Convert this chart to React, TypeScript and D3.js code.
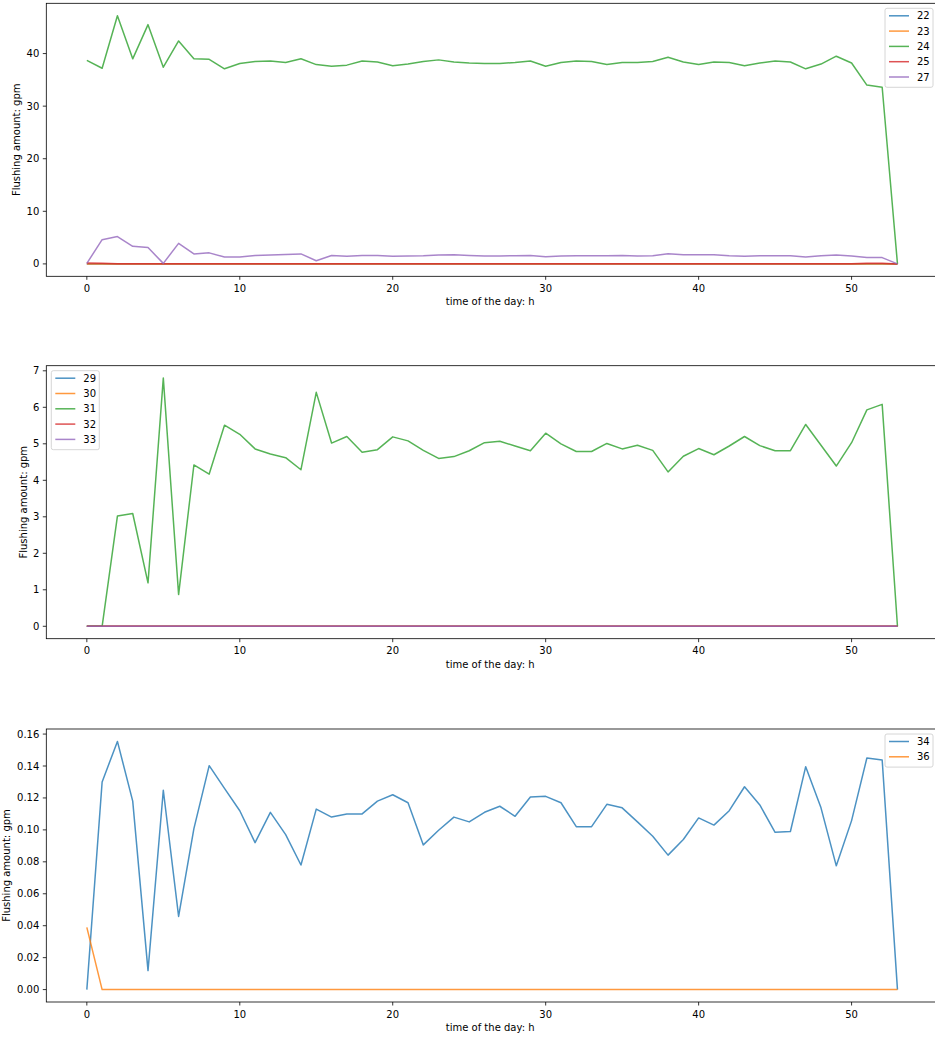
import React from 'react';
import * as d3 from 'd3';

// x axis: time index 0..53
const hours = d3.range(0, 54);

// panel 1 series
const s22 = hours.map(() => 0);
const s23 = hours.map(() => 0);
const s24 = [
  38.7, 37.2, 47.2, 39.0, 45.5, 37.4, 42.4, 39.0, 38.9, 37.1,
  38.1, 38.5, 38.6, 38.3, 39.0, 37.9, 37.6, 37.8, 38.6, 38.4,
  37.7, 38.0, 38.5, 38.8, 38.4, 38.2, 38.1, 38.1, 38.3, 38.6,
  37.6, 38.3, 38.6, 38.5, 37.9, 38.3, 38.3, 38.5, 39.3, 38.4,
  37.9, 38.4, 38.3, 37.7, 38.2, 38.6, 38.4, 37.1, 38.0, 39.5,
  38.2, 34.0, 33.6, 0,
];
const s25 = [
  0.15, 0.1, 0.05, 0.05, 0.05, 0.05, 0.05, 0.05, 0.05, 0.05,
  0.05, 0.05, 0.05, 0.05, 0.05, 0.05, 0.05, 0.05, 0.05, 0.05,
  0.05, 0.05, 0.05, 0.05, 0.05, 0.05, 0.05, 0.05, 0.05, 0.05,
  0.05, 0.05, 0.05, 0.05, 0.05, 0.05, 0.05, 0.05, 0.05, 0.05,
  0.05, 0.05, 0.05, 0.05, 0.05, 0.05, 0.05, 0.05, 0.05, 0.05,
  0.05, 0.1, 0.1, 0,
];
const s27 = [
  0.1, 4.6, 5.2, 3.35, 3.1, 0.1, 3.9, 1.9, 2.1, 1.3,
  1.3, 1.6, 1.7, 1.8, 1.9, 0.6, 1.6, 1.45, 1.6, 1.6,
  1.45, 1.5, 1.55, 1.7, 1.75, 1.6, 1.5, 1.5, 1.55, 1.6,
  1.35, 1.5, 1.55, 1.55, 1.55, 1.6, 1.5, 1.55, 1.95, 1.75,
  1.75, 1.75, 1.55, 1.45, 1.55, 1.55, 1.55, 1.3, 1.55, 1.7,
  1.5, 1.2, 1.2, 0,
];

// panel 2 series
const s29 = hours.map(() => 0);
const s30 = hours.map(() => 0);
const s31 = [
  0, 0, 3.02, 3.09, 1.19, 6.8, 0.87, 4.42, 4.17, 5.51,
  5.26, 4.86, 4.72, 4.62, 4.29, 6.41, 5.02, 5.2, 4.77, 4.84,
  5.19, 5.08, 4.82, 4.6, 4.65, 4.81, 5.03, 5.07, 4.94, 4.81,
  5.29, 5.0, 4.79, 4.79, 5.01, 4.86, 4.96, 4.82, 4.23, 4.66,
  4.87, 4.7, 4.94, 5.2, 4.95, 4.81, 4.81, 5.53, 4.96, 4.39,
  5.03, 5.93, 6.08, 0,
];
const s32 = hours.map(() => 0);
const s33 = hours.map(() => 0);

// panel 3 series
const s34 = [
  0, 0.13, 0.1554, 0.118, 0.0119, 0.1248, 0.0458, 0.1008, 0.1402, 0.126,
  0.112, 0.092, 0.111, 0.097, 0.078, 0.113, 0.108, 0.110, 0.110, 0.118,
  0.122, 0.117, 0.0906, 0.0998, 0.108, 0.105, 0.111, 0.1148, 0.1085, 0.1206,
  0.121, 0.117, 0.102, 0.102, 0.116, 0.1138, 0.105, 0.096, 0.0842, 0.094,
  0.1075, 0.103, 0.112, 0.127, 0.1156, 0.0985, 0.099, 0.1396, 0.1138, 0.0775,
  0.1058, 0.145, 0.1438, 0,
];
const s36 = hours.map((h) => (h === 0 ? 0.039 : 0));

const xTicks = [0, 10, 20, 30, 40, 50];
const yTicks1 = [0, 10, 20, 30, 40];
const yTicks2 = [0, 1, 2, 3, 4, 5, 6, 7];
const yTicks3 = [0, 0.02, 0.04, 0.06, 0.08, 0.1, 0.12, 0.14, 0.16];

const colors = ['#1f77b4', '#ff7f0e', '#2ca02c', '#d62728', '#9467bd'];

const panels = [
  {
    names: ['22', '23', '24', '25', '27'],
    series: [s22, s23, s24, s25, s27],
    yTicks: yTicks1,
    fmt: (v) => String(v),
    top: 3.3,
    legend: 'right',
    ylabelX: 16,
  },
  {
    names: ['29', '30', '31', '32', '33'],
    series: [s29, s30, s31, s32, s33],
    yTicks: yTicks2,
    fmt: (v) => String(v),
    top: 365.7,
    legend: 'left',
    ylabelX: 23,
  },
  {
    names: ['34', '36'],
    series: [s34, s36],
    yTicks: yTicks3,
    fmt: d3.format('.2f'),
    top: 729,
    legend: 'right',
    ylabelX: 6.5,
  },
];

const left = 46.3;
const right = 938;
const plotH = 273;
const font = '"DejaVu Sans", sans-serif';
const lineAlpha = 0.8;

function Panel({ p }) {
  const bottom = p.top + plotH;
  const all = p.series.flat();
  const ymin = d3.min(all);
  const ymax = d3.max(all);
  const ypad = (ymax - ymin) * 0.05;
  const x = d3.scaleLinear().domain([0 - 53 * 0.05, 53 * 1.05]).range([left, right]);
  const y = d3.scaleLinear().domain([ymin - ypad, ymax + ypad]).range([bottom, p.top]);
  const line = d3
    .line()
    .x((d, i) => x(hours[i]))
    .y((d) => y(d));

  const n = p.names.length;
  const legW = 48;
  const legH = n * 15.3 + 2.5;
  const legX = p.legend === 'right' ? 933 - legW : left + 5;
  const legY = p.top + 5;

  return (
    <g>
      {p.series.map((s, i) => (
        <path
          key={i}
          d={line(s)}
          fill='none'
          stroke={colors[i]}
          strokeOpacity={lineAlpha}
          strokeWidth={1.5}
          strokeLinejoin='round'
        />
      ))}
      <rect x={left} y={p.top} width={right - left} height={plotH} fill='none' stroke='#000' strokeWidth={0.8} />
      {xTicks.map((t) => (
        <g key={t} transform={`translate(${x(t)},${bottom})`}>
          <line y2={3.5} stroke='#000' strokeWidth={0.8} />
          <text y={15.6} textAnchor='middle' fontSize={10} fontFamily={font}>
            {t}
          </text>
        </g>
      ))}
      {p.yTicks.map((t) => (
        <g key={t} transform={`translate(${left},${y(t)})`}>
          <line x2={-3.5} stroke='#000' strokeWidth={0.8} />
          <text x={-7} dy='0.35em' textAnchor='end' fontSize={10} fontFamily={font}>
            {p.fmt(t)}
          </text>
        </g>
      ))}
      <text x={(left + right) / 2 - 2} y={bottom + 29} textAnchor='middle' fontSize={10} fontFamily={font}>
        time of the day: h
      </text>
      <text
        transform={`translate(${p.ylabelX},${p.top + plotH / 2}) rotate(-90)`}
        dy='0.35em'
        textAnchor='middle'
        fontSize={10}
        fontFamily={font}
      >
        Flushing amount: gpm
      </text>
      <rect x={legX} y={legY} width={legW} height={legH} rx={2} fill='#fff' fillOpacity={0.8} stroke='#cccccc' strokeWidth={0.8} />
      {p.names.map((name, i) => {
        const cy = legY + 7.5 + i * 15.3;
        return (
          <g key={name}>
            <line
              x1={legX + 4}
              x2={legX + 24}
              y1={cy}
              y2={cy}
              stroke={colors[i]}
              strokeOpacity={lineAlpha}
              strokeWidth={1.5}
            />
            <text x={legX + 32} y={cy} dy='0.35em' fontSize={10} fontFamily={font}>
              {name}
            </text>
          </g>
        );
      })}
    </g>
  );
}

export default function App() {
  return (
    <div style={{ position: 'absolute', left: 0, top: 0 }}>
      <svg width={935} height={1038} style={{ display: 'block', background: '#fff' }}>
        {panels.map((p, i) => (
          <Panel key={i} p={p} />
        ))}
      </svg>
    </div>
  );
}
